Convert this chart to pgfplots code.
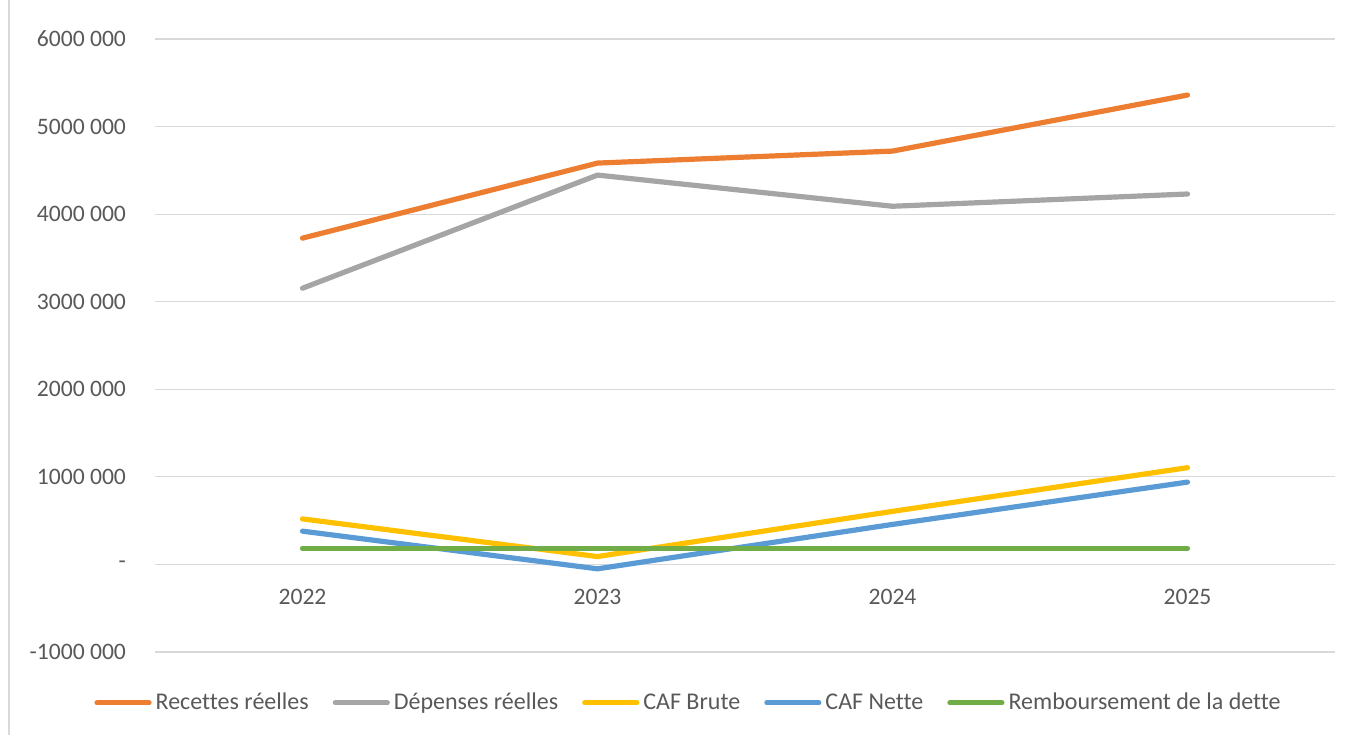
\documentclass[border=0pt]{standalone}
\usepackage{pgfplots}
\pgfplotsset{compat=1.18}
\usepackage{fontspec}
\setmainfont{Carlito}[Ligatures=NoCommon]
\definecolor{cOrange}{HTML}{ED7D31}
\definecolor{cGray}{HTML}{A5A5A5}
\definecolor{cYellow}{HTML}{FFC000}
\definecolor{cBlue}{HTML}{5B9BD5}
\definecolor{cGreen}{HTML}{70AD47}
\definecolor{cGrid}{HTML}{D9D9D9}
\definecolor{cText}{HTML}{595959}
\begin{document}
\begin{tikzpicture}
\path[use as bounding box] (-77.5pt,-41.5pt) rectangle (599.5pt,326pt);
\draw[cGrid, line width=0.8pt] (-73pt,-41.5pt) -- (-73pt,326pt);
\begin{axis}[
  at={(0pt,0pt)}, anchor=south west,
  scale only axis, width=590pt, height=306.5pt,
  xmin=-0.5, xmax=3.5, ymin=-1000000, ymax=6000000,
  axis line style={draw=none},
  major tick length=0pt,
  ymajorgrids, grid style={cGrid, line width=0.6pt},
  xtick={0,1,2,3}, xticklabels={2022,2023,2024,2025},
  ytick={-1000000,0,1000000,2000000,3000000,4000000,5000000,6000000},
  yticklabels={-1000 000,-,1000 000,2000 000,3000 000,4000 000,5000 000,6000 000},
  tick label style={font=\fontsize{11.8pt}{13pt}\selectfont, text=cText},
  yticklabel style={anchor=east, xshift=-11pt},
  xticklabel style={anchor=center, yshift=27.5pt},
  scaled y ticks=false,
  legend columns=5,
  legend style={draw=none, fill=none, at={(0.453,-0.083)}, anchor=center,
    font=\fontsize{12pt}{13pt}\selectfont, text=cText,
    /tikz/every even column/.append style={column sep=10pt},
    inner sep=0pt},
  legend cell align=left,
  legend image code/.code={\draw[#1, line cap=round] (0pt,0pt) -- (26pt,0pt);},
  every axis plot/.append style={line width=2.6pt, line cap=round, line join=round},
]
\addplot[cOrange] coordinates {(0,3726000) (1,4583000) (2,4720000) (3,5360000)};
\addlegendentry{Recettes réelles}
\addplot[cGray] coordinates {(0,3154000) (1,4446000) (2,4090000) (3,4230000)};
\addlegendentry{Dépenses réelles}
\addplot[cYellow] coordinates {(0,520000) (1,90000) (2,606000) (3,1105000)};
\addlegendentry{CAF Brute}
\addplot[cBlue] coordinates {(0,380000) (1,-50000) (2,457000) (3,940000)};
\addlegendentry{CAF Nette}
\addplot[cGreen] coordinates {(0,183000) (1,183000) (2,183000) (3,183000)};
\addlegendentry{Remboursement de la dette}
\end{axis}
\end{tikzpicture}
\end{document}
